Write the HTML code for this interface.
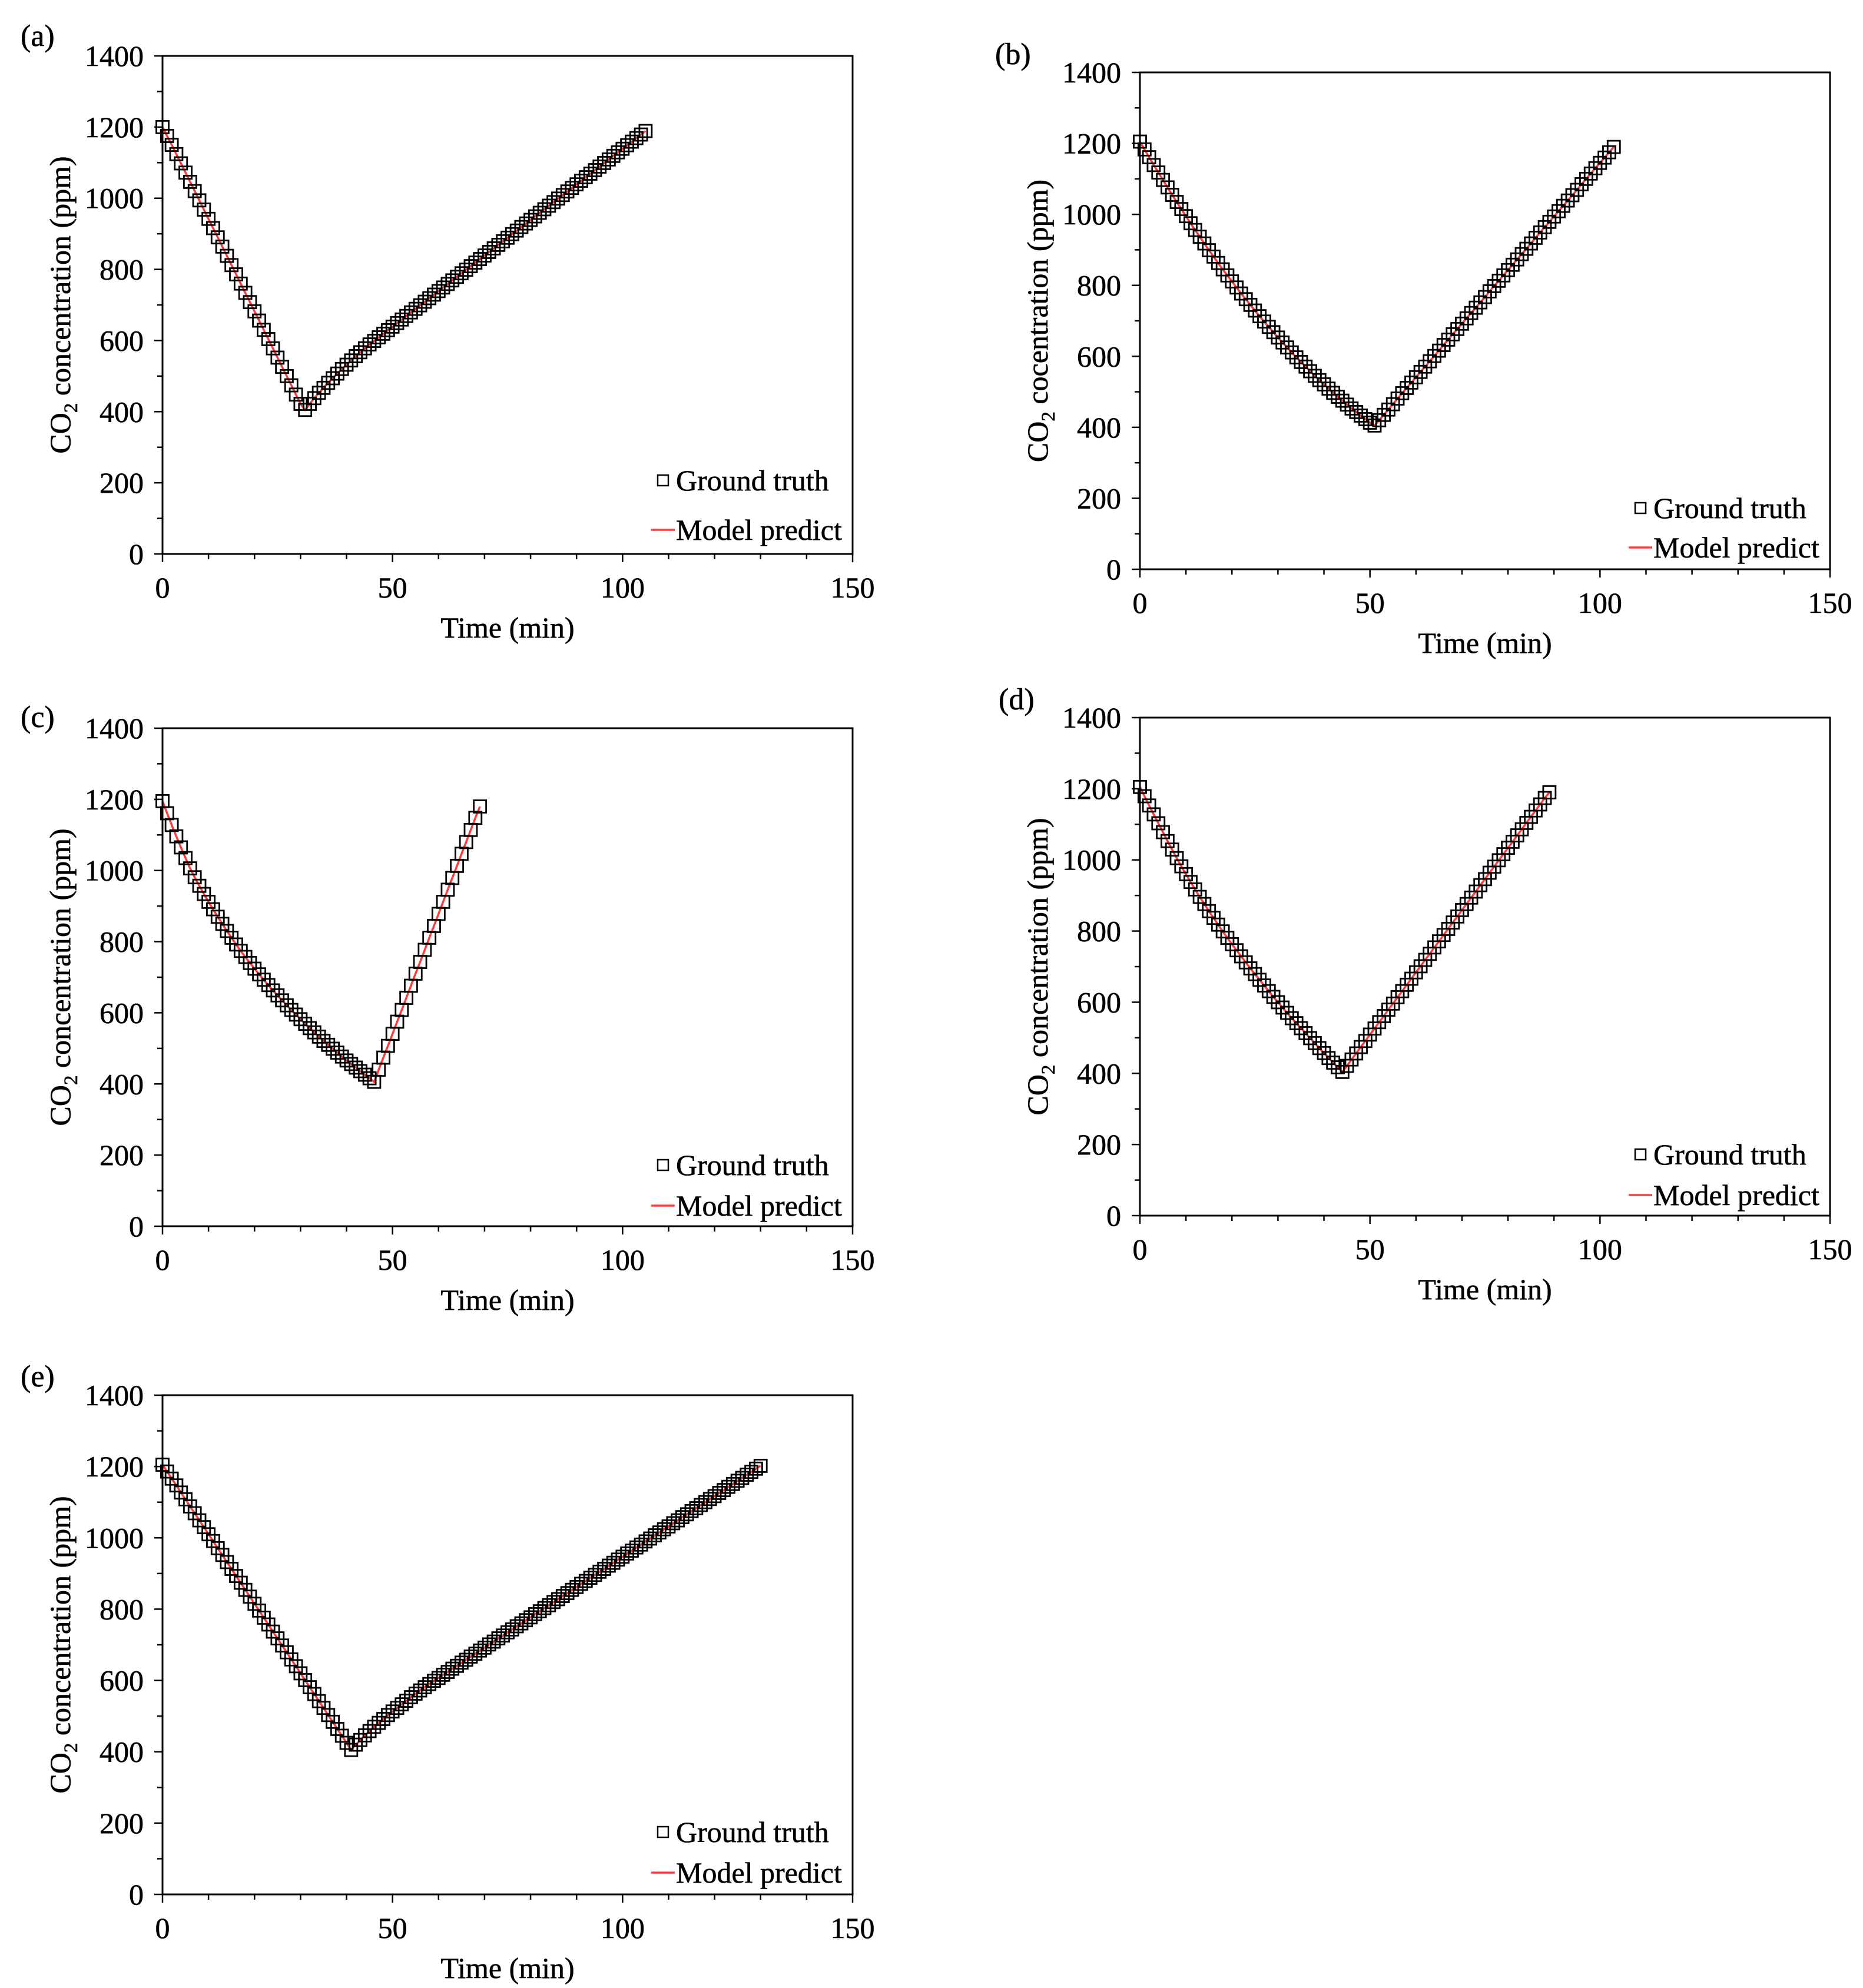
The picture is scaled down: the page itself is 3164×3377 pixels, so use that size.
<!DOCTYPE html>
<html><head><meta charset="utf-8"><style>
html,body{margin:0;padding:0;background:#fff}
svg{display:block}
text{font-family:"Liberation Serif",serif;fill:#000;stroke:#000;stroke-width:0.6}
</style></head><body>
<svg id="fig" width="3164" height="3377" viewBox="0 0 3164 3377" xmlns="http://www.w3.org/2000/svg"></svg>
<script>
const xTicks=[0,50,100,150];
const yTicks=[0,200,400,600,800,1000,1200,1400];
const dataA=[1200,1175,1150,1124,1098,1072,1046,1020,994,968,942,916,890,864,838,812,786,760,734,708,682,656,630,604,578,552,526,500,474,448,422,405,
422,438,453,467,481,494,507,520,532,544,556,567,578,589,
599,609,619,629,639,649,659,669,679,689,699,709,719,729,739,749,759,769,779,789,799,809,819,829,839,849,859,869,879,889,899,909,919,929,939,949,959,969,979,989,999,1009,1019,1029,1039,1049,1059,1069,1079,1089,1099,1109,1119,1129,1139,1149,1159,1169,1179,1189];
const dataB=[1205,1183,1161,1139,1118,1097,1076,1055,1035,1015,995,975,956,937,918,899,881,863,845,828,811,794,777,761,745,729,713,698,683,668,653,639,625,611,597,584,571,558,545,533,521,509,497,486,475,464,453,443,433,423,413,405,
420,435,450,465,481,496,511,526,541,556,571,586,601,616,632,647,662,677,692,707,722,737,752,767,783,798,813,828,843,858,873,888,903,918,934,949,964,979,994,1009,1024,1039,1054,1069,1085,1100,1115,1130,1145,1160,1175,1190];
const dataC=[1195,1161,1128,1096,1065,1035,1006,981,957,934,912,891,870,850,830,811,792,774,757,740,724,708,693,678,663,649,635,621,608,595,582,569,557,545,533,521,510,499,488,477,466,456,446,436,426,416,406,
440,474,507,541,575,608,642,676,710,743,777,811,844,878,912,946,979,1013,1047,1080,1114,1148,1180];
const dataD=[1205,1179,1153,1128,1103,1078,1053,1029,1005,982,960,938,917,896,876,856,837,818,799,781,763,746,729,712,695,679,663,647,631,615,600,585,570,555,541,527,513,499,485,471,457,443,430,417,404,
421,439,456,474,491,509,526,544,561,579,596,614,631,649,666,684,701,719,736,754,771,789,806,824,841,859,876,894,911,929,946,964,981,999,1016,1034,1051,1069,1086,1104,1121,1139,1156,1174,1190];
const dataE=[1205,1186,1166,1147,1127,1108,1088,1069,1049,1030,1010,991,971,952,932,913,893,874,854,835,815,796,776,757,737,718,698,679,659,640,620,601,581,562,542,523,503,484,464,445,425,405,
420,433,446,458,470,481,492,503,513,523,533,543,553,563,572,581,590,
599,607,616,624,633,641,650,658,667,675,684,692,701,709,718,726,735,743,752,760,769,777,786,794,803,811,820,828,837,845,854,862,871,879,888,896,905,913,922,930,939,947,956,964,973,981,990,998,1007,1015,1024,1032,1041,1049,1058,1066,1075,1083,1092,1100,1109,1117,1126,1134,1143,1151,1160,1168,1177,1185,1194,1202];
const panelLabels=["(a)","(b)","(c)","(d)","(e)"];
const yTitles=["concentration","cocentration","concentration","concentration","concentration"];

const NS="http://www.w3.org/2000/svg";
const svg=document.getElementById('fig');
function mk(tag,attrs,parent){const e=document.createElementNS(NS,tag);for(const k in attrs)e.setAttribute(k,attrs[k]);(parent||svg).appendChild(e);return e;}

const layouts=[
 {l:276,r:1448,t:95,b:941,lx:35,ly:78,g1:125,g2:41},
 {l:1936,r:3108,t:123,b:967,lx:1690,ly:109,g1:104,g2:37},
 {l:276,r:1448,t:1237,b:2083,lx:35,ly:1235,g1:104,g2:35},
 {l:1936,r:3108,t:1219,b:2065,lx:1696,ly:1205,g1:104,g2:35},
 {l:276,r:1448,t:2370,b:3218,lx:35,ly:2355,g1:106,g2:37}
];
const series=[dataA,dataB,dataC,dataD,dataE];

series.forEach((vals,pi)=>{
 const L=layouts[pi];
 const g=mk('g',{});
 
 
 const xs=v=>L.l+(v-0)/150*(L.r-L.l);
 const ys=v=>L.b-(v-0)/1400*(L.b-L.t);
 const lab=mk('text',{x:L.lx,y:L.ly,'font-size':52},g);lab.textContent=panelLabels[pi];
 
 for(let v=0;v<=150;v+=10){const x=xs(v);const major=v%50===0;
  const t=mk('line',{x1:x,x2:x,y1:L.b,y2:L.b+(major?14:9),stroke:'#000','stroke-width':2.5},g);
  }
 for(let v=0;v<=1400;v+=100){const y=ys(v);const major=v%200===0;
  const t=mk('line',{x1:L.l-(major?14:9),x2:L.l,y1:y,y2:y,stroke:'#000','stroke-width':2.5},g);
  }
 xTicks.forEach(v=>{const t=mk('text',{x:xs(v),y:L.b+74,'font-size':50,'text-anchor':'middle'},g);t.textContent=v;
  });
 yTicks.forEach(v=>{const t=mk('text',{x:L.l-32,y:ys(v)+17,'font-size':50,'text-anchor':'end'},g);t.textContent=v;
  });
 const xt=mk('text',{x:(L.l+L.r)/2,y:L.b+142,'font-size':50,'text-anchor':'middle'},g);xt.textContent='Time (min)';
 
 const cy=(L.t+L.b)/2, cx=L.l-157;
 const yt=mk('text',{x:cx,y:cy,'font-size':50,'text-anchor':'middle',transform:`rotate(-90 ${cx} ${cy})`},g);
 
 yt.appendChild(document.createTextNode('CO'));
 const sub=mk('tspan',{'font-size':33,dy:12},yt);sub.textContent='2';
 const rest=mk('tspan',{dy:-12},yt);rest.textContent=' '+yTitles[pi]+' (ppm)';
 let d='';vals.forEach((v,i)=>{d+=(i?'L':'M')+xs(i).toFixed(1)+' '+ys(v).toFixed(1);});
 const pl=mk('path',{d:d,fill:'none',stroke:'#ff3b3b','stroke-width':3.5},g);
 
 vals.forEach((v,i)=>{const m=mk('rect',{x:xs(i)-10.5,y:ys(v)-10.5,width:21,height:21,fill:'none',stroke:'#000','stroke-width':2.8},g);
  });
 const fr=mk('rect',{x:L.l,y:L.t,width:L.r-L.l,height:L.b-L.t,fill:'none',stroke:'#000','stroke-width':3},g);
 
 const mx=L.r-322, my1=L.b-L.g1, my2=L.b-L.g2;
 const lm=mk('rect',{x:mx-9,y:my1-9,width:18,height:18,fill:'none',stroke:'#000','stroke-width':2.5},g);
 
 const l1=mk('text',{x:mx+22,y:my1+17,'font-size':50},g);l1.textContent='Ground truth';
 
 const ll=mk('line',{x1:mx-20,x2:mx+20,y1:my2,y2:my2,stroke:'#ff3b3b','stroke-width':3.5},g);
 
 const l2=mk('text',{x:mx+22,y:my2+17,'font-size':50},g);l2.textContent='Model predict';
 
});
</script>
</body></html>
